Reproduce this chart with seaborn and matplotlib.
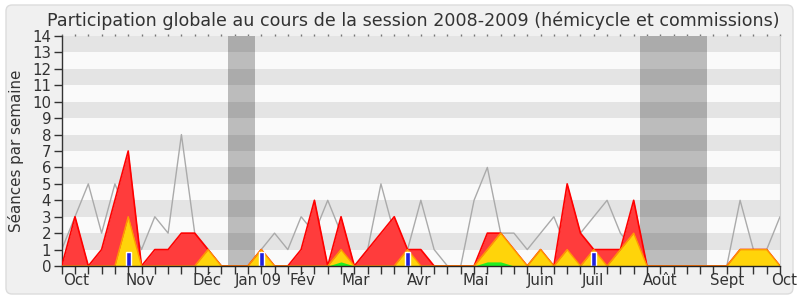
import numpy as np
import matplotlib
matplotlib.use("Agg")
import matplotlib.pyplot as plt
import seaborn as sns
from matplotlib.patches import FancyBboxPatch
from matplotlib.ticker import MultipleLocator, FixedLocator, NullFormatter
import matplotlib.transforms as mtransforms

# ---------------- data ----------------
weeks = np.arange(55)
total = [0, 3, 0, 1, 4, 7, 0, 1, 1, 2, 2, 1, 0, 0, 0, 1, 0, 0, 1, 4,
         0, 3, 0, 1, 2, 3, 1, 1, 0, 0, 0, 0, 2, 2, 1, 0, 1, 0, 5, 2,
         1, 1, 1, 4, 0, 0, 0, 0, 0, 0, 0, 1, 1, 1, 0]
hemicycle = [0, 0, 0, 0, 0, 3, 0, 0, 0, 0, 0, 1, 0, 0, 0, 1, 0, 0, 0, 0,
             0, 1, 0, 0, 0, 0, 1, 0, 0, 0, 0, 0, 1, 2, 1, 0, 1, 0, 1, 0,
             1, 0, 1, 2, 0, 0, 0, 0, 0, 0, 0, 1, 1, 1, 0]
interventions = [0] * 21 + [0.25] + [0] * 10 + [0.25, 0.25] + [0] * 21
mediane = [1, 3, 5, 2, 5, 3, 1, 3, 2, 8, 2, 1, 0, 0, 0, 1, 2, 1, 3, 2,
           4, 2, 0, 1, 5, 2, 1, 4, 1, 0, 0, 4, 6, 2, 2, 1, 2, 3, 1, 2,
           3, 4, 2, 1, 0, 0, 0, 0, 0, 0, 0, 4, 1, 1, 3]
question_weeks = [5, 15, 26, 40]
question_vals = [0.85, 0.85, 0.85, 0.85]
vacances = [13, 14, 44, 45, 46, 47, 48]
month_labels = ["Oct", "Nov", "Déc", "Jan 09", "Fév", "Mar", "Avr", "Mai",
                "Juin", "Juil", "Août", "Sept", "Oct"]
month_pos = [1.1, 5.9, 10.9, 14.8, 18.1, 22.1, 26.9, 31.1, 36.0, 39.9,
             45.0, 50.0, 54.3]
title = "Participation globale au cours de la session 2008-2009 (hémicycle et commissions)"
ylabel = "Séances par semaine"

# ---------------- figure ----------------
sns.set_theme(style="white")
plt.rcParams['font.family'] = ['DejaVu Sans']

fig = plt.figure(figsize=(8, 3), dpi=100)
fig.patch.set_facecolor("white")
bg = FancyBboxPatch((0.06, 0.06), 7.87, 2.89,
                    boxstyle="round,pad=0,rounding_size=0.06",
                    transform=fig.dpi_scale_trans, facecolor="#f0f0f0",
                    edgecolor="#dcdcdc", linewidth=1.0, zorder=-10)
fig.patches.append(bg)

ax = fig.add_axes([61.7 / 800, 1 - 266 / 300, (780 - 61.7) / 800, 230 / 300])
ax.set_facecolor("#fafafa")
ax.set_xlim(0, 54)
ax.set_ylim(0, 14)

# vacation bands
for w in vacances:
    ax.axvspan(w - 0.5, w + 0.5, color="#bcbcbc", lw=0, zorder=0.5)
# stripes
for k in range(1, 14, 2):
    ax.axhspan(k, k + 1, color="black", alpha=0.085, lw=0, zorder=0.6)

# median line
sns.lineplot(x=weeks, y=mediane, ax=ax, color="#aaaaaa", lw=1.0, zorder=2)

# total area
ax.fill_between(weeks, 0, total, color="#ff3c3c", lw=0, zorder=3)
sns.lineplot(x=weeks, y=total, ax=ax, color="#ff0000", lw=1.2, zorder=3.1)

# hemicycle area
ax.fill_between(weeks, 0, hemicycle, color="#ffd40a", lw=0, zorder=4)
sns.lineplot(x=weeks, y=hemicycle, ax=ax, color="#ff9a00", lw=1.0, zorder=4.1)

# interventions area
ax.fill_between(weeks, 0, interventions, color="#22ee22", lw=0, zorder=5)

# questions bars
ax.bar(question_weeks, question_vals, width=0.35, color="#2121dd", zorder=6)

# spines
ax.spines["top"].set_visible(False)
ax.spines["right"].set_color("#d0d0d0")
ax.spines["right"].set_linewidth(0.8)
ax.spines["left"].set_color("#333333")
ax.spines["bottom"].set_color("#222222")
ax.spines["left"].set_linewidth(1.0)
ax.spines["bottom"].set_linewidth(1.0)
ax.spines["bottom"].set_zorder(7)

# y ticks
ax.yaxis.set_major_locator(MultipleLocator(1))
ax.tick_params(axis="y", which="major", direction="out", length=6, width=1,
               color="#333333", labelsize=10.8, labelcolor="#333333", pad=1.5,
               left=True)
# x ticks: weekly minor ticks, no labels
ax.xaxis.set_major_locator(FixedLocator([]))
ax.xaxis.set_minor_locator(FixedLocator(list(weeks)))
ax.xaxis.set_minor_formatter(NullFormatter())
ax.tick_params(axis="x", which="minor", direction="out", length=6, width=1,
               color="#333333", bottom=True)

# top dotted ticks
sec = ax.secondary_xaxis("top")
sec.xaxis.set_major_locator(FixedLocator(list(weeks)))
sec.xaxis.set_major_formatter(NullFormatter())
sec.tick_params(axis="x", which="major", direction="out", length=1.5, width=1,
                color="#777777")
sec.spines["top"].set_visible(False)

# month labels
trans = mtransforms.blended_transform_factory(ax.transData, ax.transAxes)
for lab, pos in zip(month_labels, month_pos):
    ax.text(pos, -0.083, lab, transform=trans, ha="center", va="baseline",
            fontsize=10.8, color="#333333", clip_on=False)

ax.set_ylabel(ylabel, fontsize=10.9, color="#333333")
ax.yaxis.set_label_coords(-0.0525, 0.5)

fig.text(0.5165, 0.93, title, ha="center", va="center", fontsize=12.6,
         color="#333333")

fig.savefig("out.png", dpi=100, facecolor=fig.get_facecolor())
